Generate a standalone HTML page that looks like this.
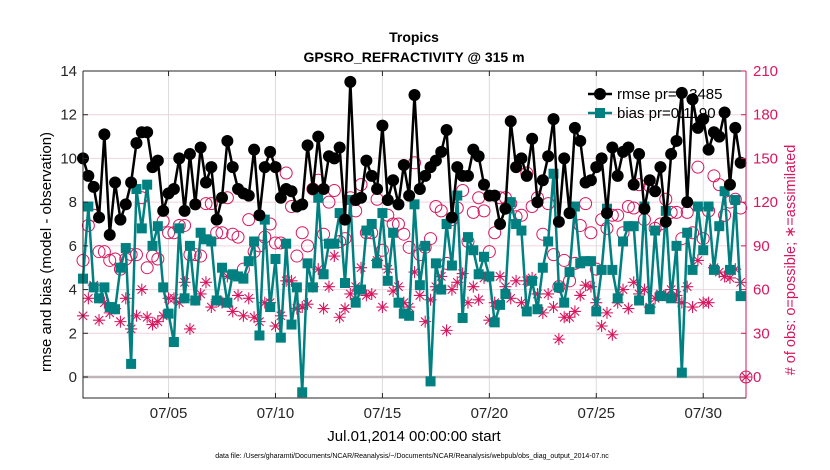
<!DOCTYPE html>
<html><head><meta charset="utf-8"><style>
html,body{margin:0;padding:0;background:#fff;}
svg{display:block;font-family:"Liberation Sans",sans-serif;}
</style></head><body>
<svg id="chart" width="830" height="470" viewBox="0 0 830 470" xmlns="http://www.w3.org/2000/svg">
<text x="414" y="42" text-anchor="middle" font-size="14" font-weight="bold">Tropics</text>
<text x="414" y="62" text-anchor="middle" font-size="14" font-weight="bold">GPSRO_REFRACTIVITY @ 315 m</text>
<g id="grid"></g>
<g id="legend">
  <line x1="588" y1="94" x2="612" y2="94" stroke="#000" stroke-width="2.5"/>
  <circle cx="600" cy="94" r="6" fill="#000"/>
  <text x="617" y="99" font-size="15">rmse pr=0.3485</text>
  <line x1="588" y1="113" x2="612" y2="113" stroke="#008080" stroke-width="2.5"/>
  <rect x="595" y="108" width="10" height="10" fill="#008080"/>
  <text x="617" y="118" font-size="15">bias pr=0.1190</text>
</g>
<g id="series"></g>
<g id="axes"></g>
<text x="414" y="441" text-anchor="middle" font-size="15">Jul.01,2014 00:00:00 start</text>
<text transform="translate(51,252) rotate(-90)" text-anchor="middle" font-size="15">rmse and bias (model - observation)</text>
<text transform="translate(795,260) rotate(-90)" text-anchor="middle" font-size="14.5" fill="#d9165e"># of obs: o=possible; ∗=assimilated</text>
<text x="412" y="458" text-anchor="middle" font-size="7">data file: /Users/gharamti/Documents/NCAR/Reanalysis/~/Documents/NCAR/Reanalysis/webpub/obs_diag_output_2014-07.nc</text>
</svg>
<script>
const rmse = [10.0,9.2,8.7,7.3,11.1,6.5,8.9,7.2,7.9,8.9,10.7,11.2,11.2,9.6,9.9,7.6,8.4,8.6,10.0,7.6,10.2,7.9,10.5,8.9,9.6,7.2,8.2,10.8,9.6,8.6,
8.4,8.3,10.4,7.4,9.6,10.3,9.6,8.2,8.6,8.5,7.8,7.9,10.6,8.6,11.0,8.6,10.1,10.0,10.5,7.2,13.5,8.1,8.2,9.9,9.2,8.6,11.5,8.1,9.0,7.9,9.7,8.3,12.9,
8.6,9.2,9.6,9.9,10.3,11.3,7.3,9.6,9.2,9.2,10.4,10.1,8.8,8.3,8.3,7.0,7.7,11.7,9.6,10.0,9.2,10.9,8.0,9.0,10.1,11.8,7.1,10.0,7.5,11.4,10.8,8.9,
9.0,9.6,10.0,7.5,10.5,9.2,10.3,10.5,8.8,10.2,7.7,9.0,8.5,9.6,7.1,10.2,10.8,13.0,8.0,12.7,11.4,11.8,10.4,11.2,11.0,12.1,8.8,11.4,9.8];
const bias = [4.5,7.8,4.1,3.6,4.1,3.2,3.1,5.0,5.9,0.6,8.6,6.8,8.8,6.0,6.9,4.1,2.9,1.6,6.8,3.6,6.0,3.5,6.6,6.3,6.2,3.5,5.0,3.4,4.7,4.6,
4.5,5.3,6.2,1.9,7.2,3.2,5.4,1.8,6.1,2.4,4.1,-0.7,5.2,4.1,8.2,4.7,6.1,6.1,7.5,4.3,8.1,3.4,4.0,6.7,7.0,5.2,7.5,4.4,6.6,3.4,2.9,2.8,7.9,
4.2,6.0,-0.2,5.2,4.0,7.0,5.1,8.3,2.7,6.4,5.8,4.7,5.5,4.6,2.5,3.3,3.8,8.0,7.0,6.7,3.0,4.4,3.1,5.0,6.2,9.3,4.1,3.4,4.8,7.8,5.2,5.3,
5.3,3.0,4.9,7.7,4.9,3.6,6.2,6.9,6.9,3.5,7.8,3.1,6.7,3.7,7.6,3.6,6.0,0.2,6.6,4.9,7.8,5.8,7.8,4.9,6.9,8.5,4.9,8.1,3.7];
const possible = [80,104,111,86,86,80,81,74,81,84,84,123,75,83,81,107,99,99,104,104,
84,84,83,119,119,99,99,123,98,96,
74,108,86,90,96,105,92,92,140,117,83,99,90,129,135,98,120,128,93,95,123,114,132,99,99,122,87,111,105,105,98,89,147,
84,89,95,117,114,78,108,116,128,93,113,123,114,86,99,123,123,119,110,111,140,117,123,98,119,84,62,80,66,78,104,119,
99,74,108,102,111,111,99,117,116,132,108,131,102,105,122,113,113,95,113,99,144,95,114,138,132,111,120,122,116,0];
const assimilated = [42,54,63,39,51,44,47,38,54,33,42,60,41,36,38,42,54,54,51,65,33,
53,57,65,48,53,51,69,45,56,
42,54,41,38,51,51,35,42,66,66,47,48,50,62,74,47,62,83,41,47,57,62,75,56,57,80,48,74,59,62,51,48,72,
56,38,53,62,69,32,60,65,71,51,62,53,68,39,51,69,62,54,66,51,66,68,57,44,57,48,26,41,41,45,56,63,
62,51,35,44,29,51,60,47,65,57,60,48,54,57,56,60,56,51,62,48,80,51,51,75,72,69,68,74,65,0];
const leftTicks = [0,2,4,6,8,10,12,14];
const rightTicks = [0,30,60,90,120,150,180,210];
const xTickDays = [4,9,14,19,24,29];
const xTickLabels = ["07/05","07/10","07/15","07/20","07/25","07/30"];
const stepDays = 0.25;

const NS="http://www.w3.org/2000/svg";
const L=83,R=746,T=71,B=398;
const x = d => L + d*(R-L)/31;
const y = v => 377 - v*(377-T)/14;
const yR = c => y(c*14/210);
function mk(tag, attrs, parent){const e=document.createElementNS(NS,tag);for(const k in attrs)e.setAttribute(k,attrs[k]);parent.appendChild(e);return e;}
const grid=document.getElementById('grid'), ser=document.getElementById('series'), axes=document.getElementById('axes');
const PINK="#d9165e";

rightTicks.forEach(t=>{ if(t>0&&t<210){const g=mk('line',{x1:L,x2:R,y1:yR(t),y2:yR(t),stroke:"#f0d4de","stroke-width":1},grid);

}});
xTickDays.forEach(d=>{const g=mk('line',{x1:x(d),x2:x(d),y1:T,y2:B,stroke:"#dcdcdc","stroke-width":1},grid);

});
const zl=mk('line',{x1:L,x2:R,y1:y(0),y2:y(0),stroke:"#bdb5b8","stroke-width":2.5},grid);



possible.forEach((c,i)=>{const e=mk('circle',{cx:x(i*stepDays),cy:yR(c),r:6,fill:"none",stroke:PINK,"stroke-width":1},ser);

});
assimilated.forEach((c,i)=>{const cx=x(i*stepDays),cy=yR(c),s=6;
const g=mk('path',{d:`M${cx-s},${cy}H${cx+s}M${cx},${cy-s}V${cy+s}M${cx-s*0.7},${cy-s*0.7}L${cx+s*0.7},${cy+s*0.7}M${cx-s*0.7},${cy+s*0.7}L${cx+s*0.7},${cy-s*0.7}`,stroke:PINK,"stroke-width":1.1,fill:"none"},ser);

});
const bp=mk('polyline',{points:bias.map((v,i)=>x(i*stepDays)+","+y(v)).join(" "),fill:"none",stroke:"#008080","stroke-width":2.5},ser);


bias.forEach((v,i)=>{const e=mk('rect',{x:x(i*stepDays)-5,y:y(v)-5,width:10,height:10,fill:"#008080"},ser);

});
const rp=mk('polyline',{points:rmse.map((v,i)=>x(i*stepDays)+","+y(v)).join(" "),fill:"none",stroke:"#000","stroke-width":2.5},ser);


rmse.forEach((v,i)=>{const e=mk('circle',{cx:x(i*stepDays),cy:y(v),r:6,fill:"#000"},ser);

});

const f1=mk('path',{d:`M${L},${T}H${R}M${L},${T}V${B}H${R}`,stroke:"#262626","stroke-width":1,fill:"none"},axes);


const ra=mk('line',{x1:R,x2:R,y1:T,y2:B,stroke:PINK,"stroke-width":1},axes);


leftTicks.forEach(t=>{const tk=mk('line',{x1:L,x2:L+5,y1:y(t),y2:y(t),stroke:"#262626"},axes);


const tx=mk('text',{x:L-6,y:y(t)+5,"text-anchor":"end","font-size":15,fill:"#262626"},axes);tx.textContent=t;

});
rightTicks.forEach(t=>{const tk=mk('line',{x1:R-5,x2:R,y1:yR(t),y2:yR(t),stroke:PINK},axes);


const tx=mk('text',{x:R+7,y:yR(t)+5,"font-size":15,fill:PINK},axes);tx.textContent=t;

});
xTickDays.forEach((d,i)=>{const tk=mk('line',{x1:x(d),x2:x(d),y1:B,y2:B-5,stroke:"#262626"},axes);


const tk2=mk('line',{x1:x(d),x2:x(d),y1:T,y2:T+5,stroke:"#262626"},axes);


const tx=mk('text',{x:x(d),y:418,"text-anchor":"middle","font-size":15,fill:"#262626"},axes);tx.textContent=xTickLabels[i];

});
</script>
</body></html>
